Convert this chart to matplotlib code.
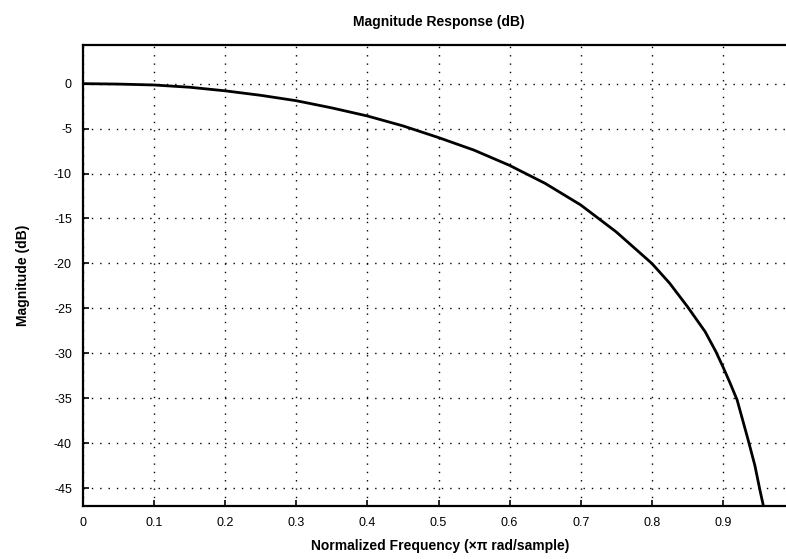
import matplotlib
matplotlib.use("Agg")
import matplotlib.pyplot as plt

# Data
freq = [0.0, 0.05, 0.1, 0.15, 0.2, 0.25, 0.3, 0.35, 0.4, 0.45, 0.5, 0.55,
        0.6, 0.65, 0.7, 0.75, 0.8, 0.825, 0.85, 0.875, 0.89, 0.9, 0.91,
        0.92, 0.935, 0.945, 0.952, 0.957]
mag_db = [0.0, -0.05, -0.15, -0.4, -0.8, -1.3, -1.9, -2.7, -3.6, -4.7, -6.0,
          -7.4, -9.1, -11.1, -13.5, -16.5, -20.0, -22.2, -24.8, -27.6, -29.8,
          -31.5, -33.3, -35.2, -39.5, -42.5, -45.2, -47.0]
xticks = [0, 0.1, 0.2, 0.3, 0.4, 0.5, 0.6, 0.7, 0.8, 0.9]
xticklabels = ["0", "0.1", "0.2", "0.3", "0.4", "0.5", "0.6", "0.7", "0.8", "0.9"]
yticks = [0, -5, -10, -15, -20, -25, -30, -35, -40, -45]
yticklabels = ["0", "-5", "-10", "-15", "-20", "-25", "-30", "-35", "-40", "-45"]

plt.rcParams['font.family'] = ['Liberation Sans', 'DejaVu Sans']

fig = plt.figure(figsize=(7.86, 5.59), dpi=100)
ax = fig.add_axes([83 / 786, 53 / 559, 711 / 786, 461 / 559])

ax.plot(freq, mag_db, color='black', linewidth=2.0)

ax.set_xlim(0, 1)
ax.set_ylim(-47, 4.3)
ax.set_xticks(xticks)
ax.set_xticklabels(xticklabels, fontsize=9)
ax.set_yticks(yticks)
ax.set_yticklabels(yticklabels, fontsize=9)
ax.tick_params(direction='in', length=4, width=1.2, colors='black', pad=8)

ax.grid(True, color='black', linestyle=(0, (1, 5)), linewidth=1.0)

for s in ax.spines.values():
    s.set_color('black')
    s.set_linewidth(1.6)

ax.set_title("Magnitude Response (dB)", fontsize=10, fontweight='bold', pad=14)
ax.set_xlabel("Normalized Frequency (\u00d7\u03c0 rad/sample)", fontsize=10,
              fontweight='bold')
ax.set_ylabel("Magnitude (dB)", fontsize=10, fontweight='bold')
ax.xaxis.set_label_coords((440 - 83) / 711, -0.072)
ax.yaxis.set_label_coords(-(83 - 30) / 711, 0.5)

fig.savefig("out.png", dpi=100)
